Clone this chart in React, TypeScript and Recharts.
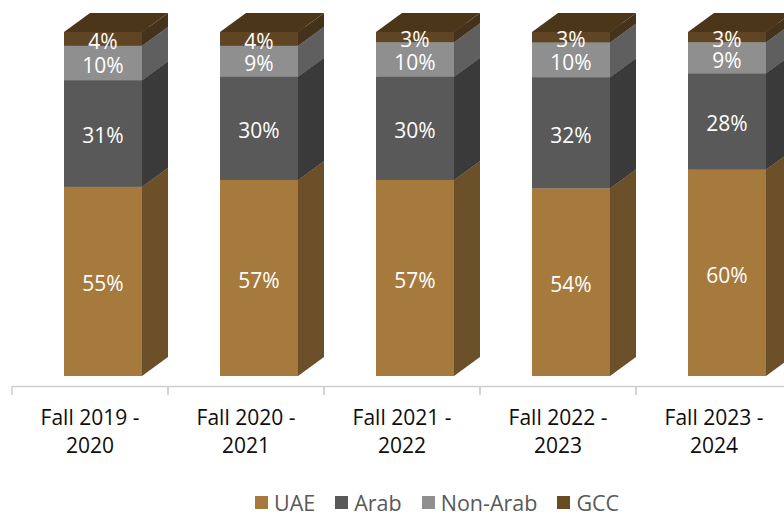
import React from 'react';
import { BarChart, Bar, XAxis, YAxis, LabelList } from 'recharts';

const categories = ['Fall 2019 - 2020', 'Fall 2020 - 2021', 'Fall 2021 - 2022', 'Fall 2022 - 2023', 'Fall 2023 - 2024'];
const uae = [55, 57, 57, 54, 60];
const arab = [31, 30, 30, 32, 28];
const nonArab = [10, 9, 10, 10, 9];
const gcc = [4, 4, 3, 3, 3];

const series = [
  { key: 'uae', name: 'UAE', legend: '#A6793D', front: '#A6793D', side: '#6B5029', top: '#8A6332' },
  { key: 'arab', name: 'Arab', legend: '#595959', front: '#595959', side: '#3A3A3A', top: '#474747' },
  { key: 'nonArab', name: 'Non-Arab', legend: '#8F8F8F', front: '#8F8F8F', side: '#5F5F5F', top: '#777777' },
  { key: 'gcc', name: 'GCC', legend: '#6A4C24', front: '#604524', side: '#45321A', top: '#4B3619' },
];

const data = categories.map((c, i) => ({
  name: c,
  uae: uae[i],
  arab: arab[i],
  nonArab: nonArab[i],
  gcc: gcc[i],
}));

// 3D projection of the boxes
const DX = 26;
const DY = 19;
const SHIFT = DX / 2;
const FONT = '"Open Sans", sans-serif';

const boxShape = (s: typeof series[number]) => (props: any) => {
  const { x, y, width, height } = props;
  if (width == null || height == null || isNaN(y)) return null;
  const fx = x + SHIFT;
  const r = fx + width;
  return (
    <g>
      <rect x={fx} y={y} width={width} height={height} fill={s.front} />
      <polygon
        points={`${r},${y} ${r + DX},${y - DY} ${r + DX},${y + height - DY} ${r},${y + height}`}
        fill={s.side}
      />
      <polygon
        points={`${fx},${y} ${fx + DX},${y - DY} ${r + DX},${y - DY} ${r},${y}`}
        fill={s.top}
      />
    </g>
  );
};

const valueLabel = (props: any) => {
  const vb = props.viewBox || props;
  const { x, y, width, height } = vb;
  return (
    <text
      x={x + SHIFT + width / 2}
      y={y + height / 2 + 10}
      textAnchor="middle"
      fill="#ffffff"
      fontSize={21}
      fontFamily={FONT}
    >
      {`${props.value}%`}
    </text>
  );
};

const CategoryTick = (props: any) => {
  const { x, y, payload } = props;
  const half = 78;
  const parts = String(payload.value).split(' - ');
  return (
    <g>
      <line x1={x - half} x2={x + half} y1={y + 10.5} y2={y + 10.5} stroke="#D0D0D0" strokeWidth={1.5} />
      <line x1={x - half} x2={x - half} y1={y + 10} y2={y + 19} stroke="#D0D0D0" strokeWidth={1.5} />
      <line x1={x + half} x2={x + half} y1={y + 10} y2={y + 19} stroke="#D0D0D0" strokeWidth={1.5} />
      <text x={x} y={y + 49} textAnchor="middle" fill="#0D0D0D" fontSize={21} fontFamily={FONT}>
        {parts[0] + ' -'}
      </text>
      <text x={x} y={y + 77} textAnchor="middle" fill="#0D0D0D" fontSize={21} fontFamily={FONT}>
        {parts[1]}
      </text>
    </g>
  );
};

export default function App() {
  return (
    <div
      style={{
        position: 'absolute',
        left: 0,
        top: 0,
        width: 784,
        height: 516,
        overflow: 'hidden',
        background: '#ffffff',
      }}
    >
      <BarChart
        width={792}
        height={516}
        data={data}
        stackOffset="expand"
        barCategoryGap="25%"
        margin={{ top: 32, right: 0, bottom: 0, left: 12 }}
      >
        <XAxis
          dataKey="name"
          height={140}
          axisLine={false}
          tickLine={false}
          tickSize={0}
          tickMargin={0}
          interval={0}
          tick={<CategoryTick />}
        />
        <YAxis hide domain={[0, 1]} />
        {series.map((s) => (
          <Bar
            key={s.key}
            dataKey={s.key}
            stackId="a"
            isAnimationActive={false}
            shape={boxShape(s)}
          >
            <LabelList dataKey={s.key} content={valueLabel} />
          </Bar>
        ))}
      </BarChart>
      <div
        style={{
          position: 'absolute',
          left: 255,
          top: 488,
          display: 'flex',
          alignItems: 'center',
          fontFamily: FONT,
          fontSize: 21.5,
          color: '#595959',
          whiteSpace: 'nowrap',
        }}
      >
        {series.map((s) => (
          <div key={s.key} style={{ display: 'flex', alignItems: 'center', marginRight: 20 }}>
            <span style={{ width: 13, height: 13, background: s.legend, marginRight: 6, display: 'inline-block' }} />
            <span>{s.name}</span>
          </div>
        ))}
      </div>
    </div>
  );
}
